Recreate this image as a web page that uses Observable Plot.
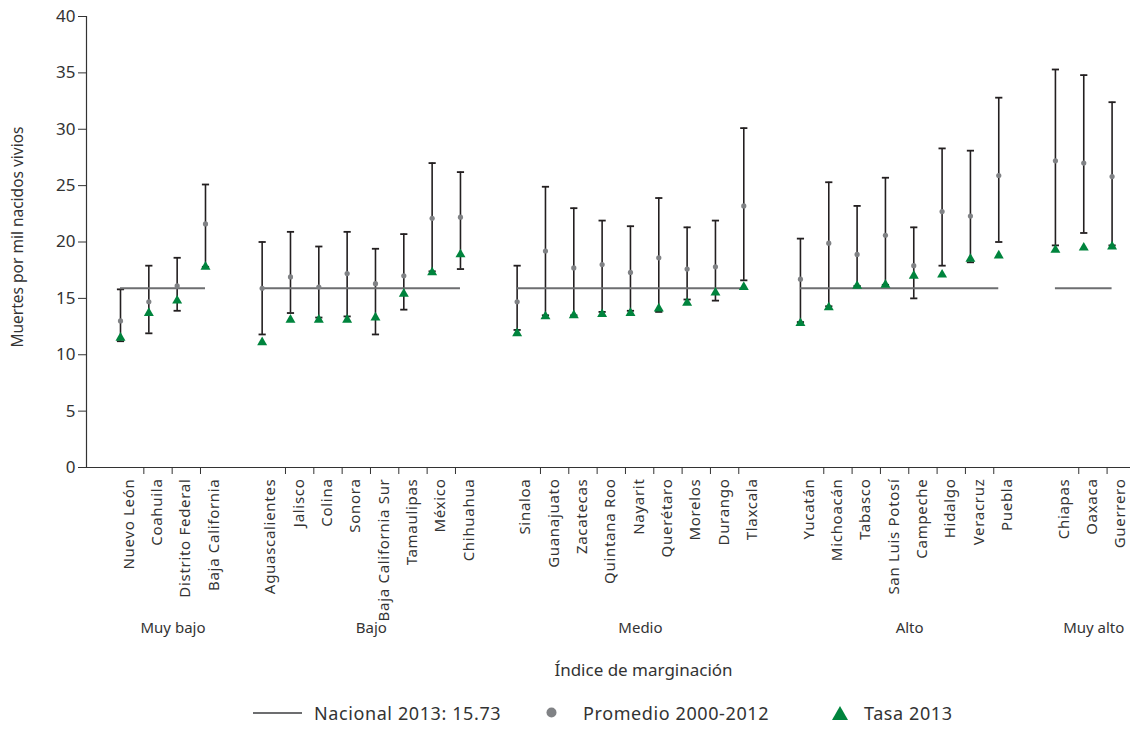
<!DOCTYPE html>
<html><head><meta charset="utf-8">
<script src="https://cdn.jsdelivr.net/npm/d3@7"></script>
<script src="https://cdn.jsdelivr.net/npm/@observablehq/plot@0.6"></script>
<style>
body{margin:0;background:#fff;font-family:"Noto Sans",sans-serif;color:#333}
#legend{position:relative;width:1132px;height:35px;font-size:18px;letter-spacing:0.6px;color:#333}
#legend .it{position:absolute;top:0;height:35px;display:flex;align-items:center;white-space:nowrap}
g[aria-label="x-axis tick label"] text{letter-spacing:0.7px}
g[aria-label="ytitle"] text{letter-spacing:1.2px}
</style></head><body>
<div id="chart"></div>
<div id="legend">
  <div class="it" style="left:253px"><svg width="49" height="10"><line x1="0" x2="49" y1="5" y2="5" stroke="#6d6e70" stroke-width="2"/></svg></div>
  <div class="it" style="left:314px">Nacional 2013: 15.73</div>
  <div class="it" style="left:546px"><svg width="11" height="11"><circle cx="5.5" cy="5.5" r="5" fill="#808285"/></svg></div>
  <div class="it" style="left:583px">Promedio 2000-2012</div>
  <div class="it" style="left:832px"><svg width="16" height="14"><polygon points="8,0 16,14 0,14" fill="#00843d"/></svg></div>
  <div class="it" style="left:864px">Tasa 2013</div>
</div>
<script>
const grupos = ["Muy bajo","Bajo","Medio","Alto","Muy alto"];
const estados = ["Nuevo León","Coahuila","Distrito Federal","Baja California",
 "Aguascalientes","Jalisco","Colina","Sonora","Baja California Sur","Tamaulipas","México","Chihuahua",
 "Sinaloa","Guanajuato","Zacatecas","Quintana Roo","Nayarit","Querétaro","Morelos","Durango","Tlaxcala",
 "Yucatán","Michoacán","Tabasco","San Luis Potosí","Campeche","Hidalgo","Veracruz","Puebla",
 "Chiapas","Oaxaca","Guerrero"];
const grupoEstado = ["Muy bajo","Muy bajo","Muy bajo","Muy bajo",
 "Bajo","Bajo","Bajo","Bajo","Bajo","Bajo","Bajo","Bajo",
 "Medio","Medio","Medio","Medio","Medio","Medio","Medio","Medio","Medio",
 "Alto","Alto","Alto","Alto","Alto","Alto","Alto","Alto",
 "Muy alto","Muy alto","Muy alto"];
const maximo   = [15.8,17.9,18.6,25.1, 20.0,20.9,19.6,20.9,19.4,20.7,27.0,26.2, 17.9,24.9,23.0,21.9,21.4,23.9,21.3,21.9,30.1, 20.3,25.3,23.2,25.7,21.3,28.3,28.1,32.8, 35.3,34.8,32.4];
const promedio = [13.0,14.7,16.1,21.6, 15.9,16.9,16.0,17.2,16.3,17.0,22.1,22.2, 14.7,19.2,17.7,18.0,17.3,18.6,17.6,17.8,23.2, 16.7,19.9,18.9,20.6,17.9,22.7,22.3,25.9, 27.2,27.0,25.8];
const minimo   = [11.2,11.9,13.9,17.8, 11.8,13.7,13.3,13.4,11.8,14.0,17.4,17.6, 12.2,13.5,13.5,13.8,13.9,13.8,14.9,14.8,16.6, 12.9,14.3,16.1,16.2,15.0,17.9,18.2,20.0, 19.7,20.8,19.7];
const tasa2013 = [11.5,13.7,14.8,17.8, 11.1,13.1,13.1,13.1,13.3,15.4,17.3,18.9, 11.9,13.4,13.5,13.6,13.7,14.1,14.6,15.5,16.0, 12.8,14.2,16.1,16.2,17.0,17.1,18.5,18.8, 19.3,19.5,19.6];
const nacional = 15.9; // level as drawn in the reference
const yTicks = [0,5,10,15,20,25,30,35,40];
const tituloY = "Muertes por mil nacidos vivios";
const tituloX = "Índice de marginación";

// slot index: one empty slot between groups
let slot = -2, prev = null;
const filas = estados.map((e, i) => {
  if (grupoEstado[i] !== prev) { slot += 2; prev = grupoEstado[i]; } else slot += 1;
  return {estado: e, grupo: grupoEstado[i], slot, max: maximo[i], prom: promedio[i], min: minimo[i], tasa: tasa2013[i], first: slot === 0 || grupoEstado[i-1] !== grupoEstado[i]};
});
const nombrePorSlot = new Map(filas.map(d => [d.slot, d.estado]));
const gruposRes = grupos.map(g => {
  const f = filas.filter(d => d.grupo === g);
  return {grupo: g, x1: f[0].slot, x2: f[f.length-1].slot, xc: (f[0].slot + f[f.length-1].slot)/2, y: nacional};
});
const xDomain = [-1.2, 35.65];
const capSymbol = {draw(ctx){ ctx.moveTo(-3.6,0); ctx.lineTo(3.6,0); }};

const chart = Plot.plot({
  width: 1132, height: 695,
  marginLeft: 86, marginRight: 2, marginTop: 16, marginBottom: 228,
  style: {fontFamily: "Noto Sans", fontSize: "13px", color: "#333", background: "#fff"},
  x: {type: "linear", domain: xDomain},
  y: {domain: [0, 40]},
  marks: [
    Plot.axisY(yTicks, {tickSize: 8, tickPadding: 3, fontSize: 17, label: null, stroke: "#333"}),
    Plot.ruleX([xDomain[0]], {stroke: "#333", strokeWidth: 1.2}),
    Plot.ruleY([0], {stroke: "#333", strokeWidth: 1.2}),
    Plot.axisX(filas.filter(d => !d.first).map(d => d.slot), {tickSize: 7, tickFormat: () => "", dx: -5, label: null, stroke: "#333"}),
    Plot.axisX(filas.map(d => d.slot), {tickSize: 0, tickPadding: 11, tickRotate: -90, tickFormat: s => nombrePorSlot.get(s), fontSize: 15, dx: 8.5, label: null}),
    Plot.text(gruposRes, {x: "xc", text: "grupo", frameAnchor: "bottom", dy: 165, dx: 10, fontSize: 15, fill: "#333"}),
    Plot.text([tituloX], {text: d => d, frameAnchor: "bottom", dy: 208, dx: 35, fontSize: 17, fill: "#333"}),
    Plot.text([tituloY], {text: d => d, frameAnchor: "left", textAnchor: "middle", rotate: -90, dx: -68, dy: -5, fontSize: 15.5, fill: "#333", ariaLabel: "ytitle"}),
    Plot.ruleX(filas, {x: "slot", y1: "min", y2: "max", stroke: "#231f20", strokeWidth: 1.6}),
    Plot.dot(filas, {x: "slot", y: "max", symbol: capSymbol, stroke: "#231f20", fill: "none", strokeWidth: 1.8}),
    Plot.dot(filas, {x: "slot", y: "min", symbol: capSymbol, stroke: "#231f20", fill: "none", strokeWidth: 1.8}),
    Plot.ruleY(gruposRes, {x1: "x1", x2: "x2", y: "y", stroke: "#6d6e70", strokeWidth: 2}),
    Plot.dot(filas, {x: "slot", y: "prom", r: 2.6, fill: "#808285", stroke: "none"}),
    Plot.dot(filas, {x: "slot", y: "tasa", symbol: "triangle", r: 3.7, fill: "#00843d", stroke: "none"})
  ]
});
document.getElementById("chart").appendChild(chart);
</script>
</body></html>
